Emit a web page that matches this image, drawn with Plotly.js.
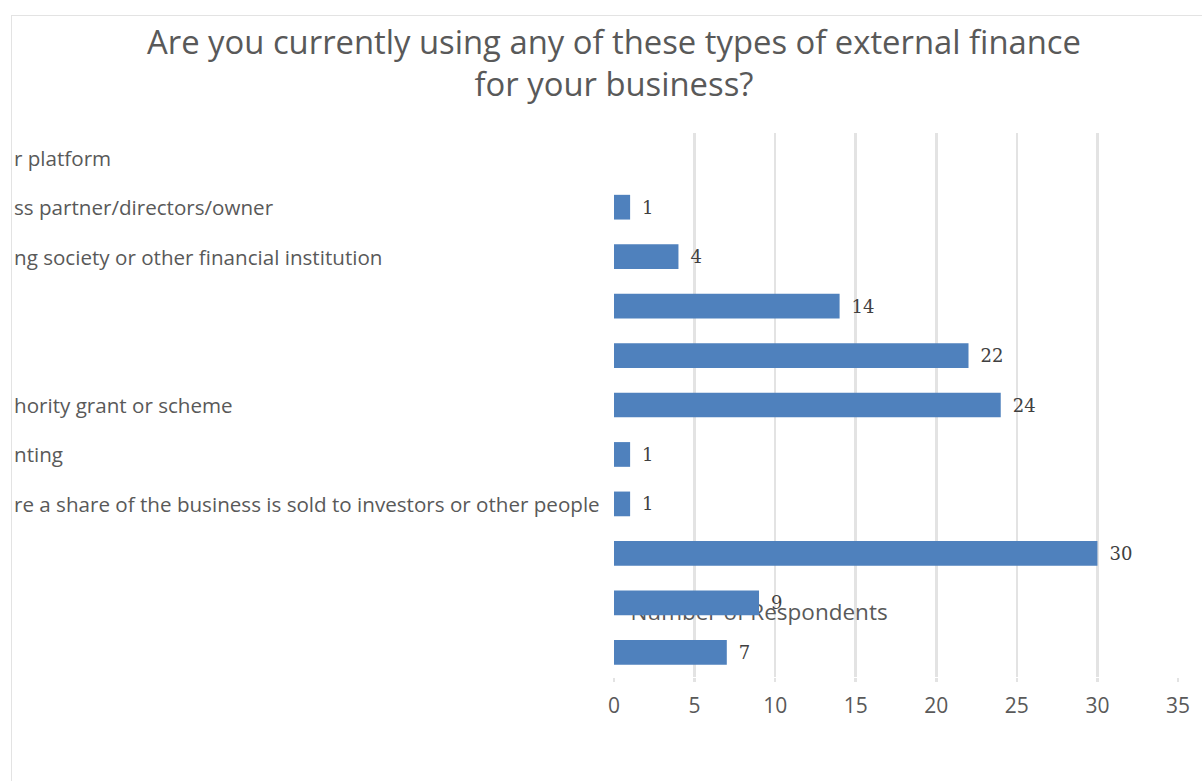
<!DOCTYPE html>
<html>
<head>
<meta charset="utf-8">
<script src="https://cdn.plot.ly/plotly-3.0.1.min.js"></script>
<style>
  html, body { margin: 0; padding: 0; background: #ffffff; width: 1202px; height: 781px; overflow: hidden; }
  #frame { position: absolute; left: 11px; top: 15px; width: 1191px; height: 766px;
           border-left: 1px solid #e3e3e3; border-top: 1px solid #e3e3e3; overflow: hidden; }
  #chart { position: absolute; left: 0; top: 0; width: 1191px; height: 766px; }
</style>
</head>
<body>
<div id="frame"><div id="chart"></div></div>
<script>
// Visible (cut-off) category labels, top to bottom, as they appear in the reference
const categories = [
  "r platform",
  "ss partner/directors/owner",
  "ng society or other financial institution",
  "",
  "",
  "hority grant or scheme",
  "nting",
  "re a share of the business is sold to investors or other people",
  "",
  "",
  ""
];
const respondents = [0, 1, 4, 14, 22, 24, 1, 1, 30, 9, 7];
const xTickValues = [0, 5, 10, 15, 20, 25, 30, 35];
const titleText = "Are you currently using any of these types of external finance<br>for your business?";
const axisTitleText = "Number of Respondents";

const rows = categories.map((_, i) => i);

const trace = {
  type: "bar",
  orientation: "h",
  x: respondents,
  y: rows,
  marker: { color: "#4F81BD", line: { width: 0 } },
  text: respondents.map(v => (v > 0 ? "\u2002" + v : "")),
  textposition: "outside",
  textfont: { family: "DejaVu Serif, serif", size: 18, color: "#404040" },
  cliponaxis: false,
  hoverinfo: "none"
};

const labelAnnotations = categories.map((c, i) => ({
  text: c,
  xref: "paper",
  yref: "y",
  x: -601 / 563,
  y: rows[i],
  xanchor: "left",
  yanchor: "middle",
  showarrow: false,
  font: { family: "Open Sans, sans-serif", size: 20.6, color: "#595959" }
}));

const layout = {
  width: 1191,
  height: 766,
  margin: { l: 602, r: 25, t: 117, b: 105 },
  paper_bgcolor: "#ffffff",
  plot_bgcolor: "#ffffff",
  showlegend: false,
  bargap: 0.5,
  title: {
    text: titleText,
    font: { family: "Open Sans, sans-serif", size: 32.8, color: "#595959" },
    x: 602 / 1191,
    xanchor: "center",
    xref: "container",
    y: 0.951,
    yanchor: "top",
    yref: "container"
  },
  xaxis: {
    range: [0, 35],
    tickvals: xTickValues,
    showgrid: true,
    gridcolor: "#e3e3e3",
    gridwidth: 2.5,
    zeroline: false,
    showline: false,
    ticks: "outside",
    ticklen: 4,
    tickcolor: "#e3e3e3",
    tickwidth: 2.5,
    tickfont: { family: "Open Sans, sans-serif", size: 21, color: "#595959" },
    ticklabelstandoff: 6,
    fixedrange: true
  },
  yaxis: {
    range: [10.5, -0.5],
    showticklabels: false,
    showgrid: false,
    zeroline: false,
    showline: false,
    ticks: "",
    fixedrange: true
  },
  annotations: labelAnnotations,
  shapes: [{
    type: "rect",
    xref: "x",
    yref: "y",
    x0: 2, x1: 16,
    y0: 9.2, y1: 9.2,
    line: { width: 0 },
    fillcolor: "rgba(0,0,0,0)",
    layer: "between",
    label: {
      text: axisTitleText,
      textposition: "middle center",
      font: { family: "Open Sans, sans-serif", size: 22.5, color: "#595959" }
    }
  }]
};

Plotly.newPlot("chart", [trace], layout, { displayModeBar: false, staticPlot: true });
</script>
</body>
</html>
